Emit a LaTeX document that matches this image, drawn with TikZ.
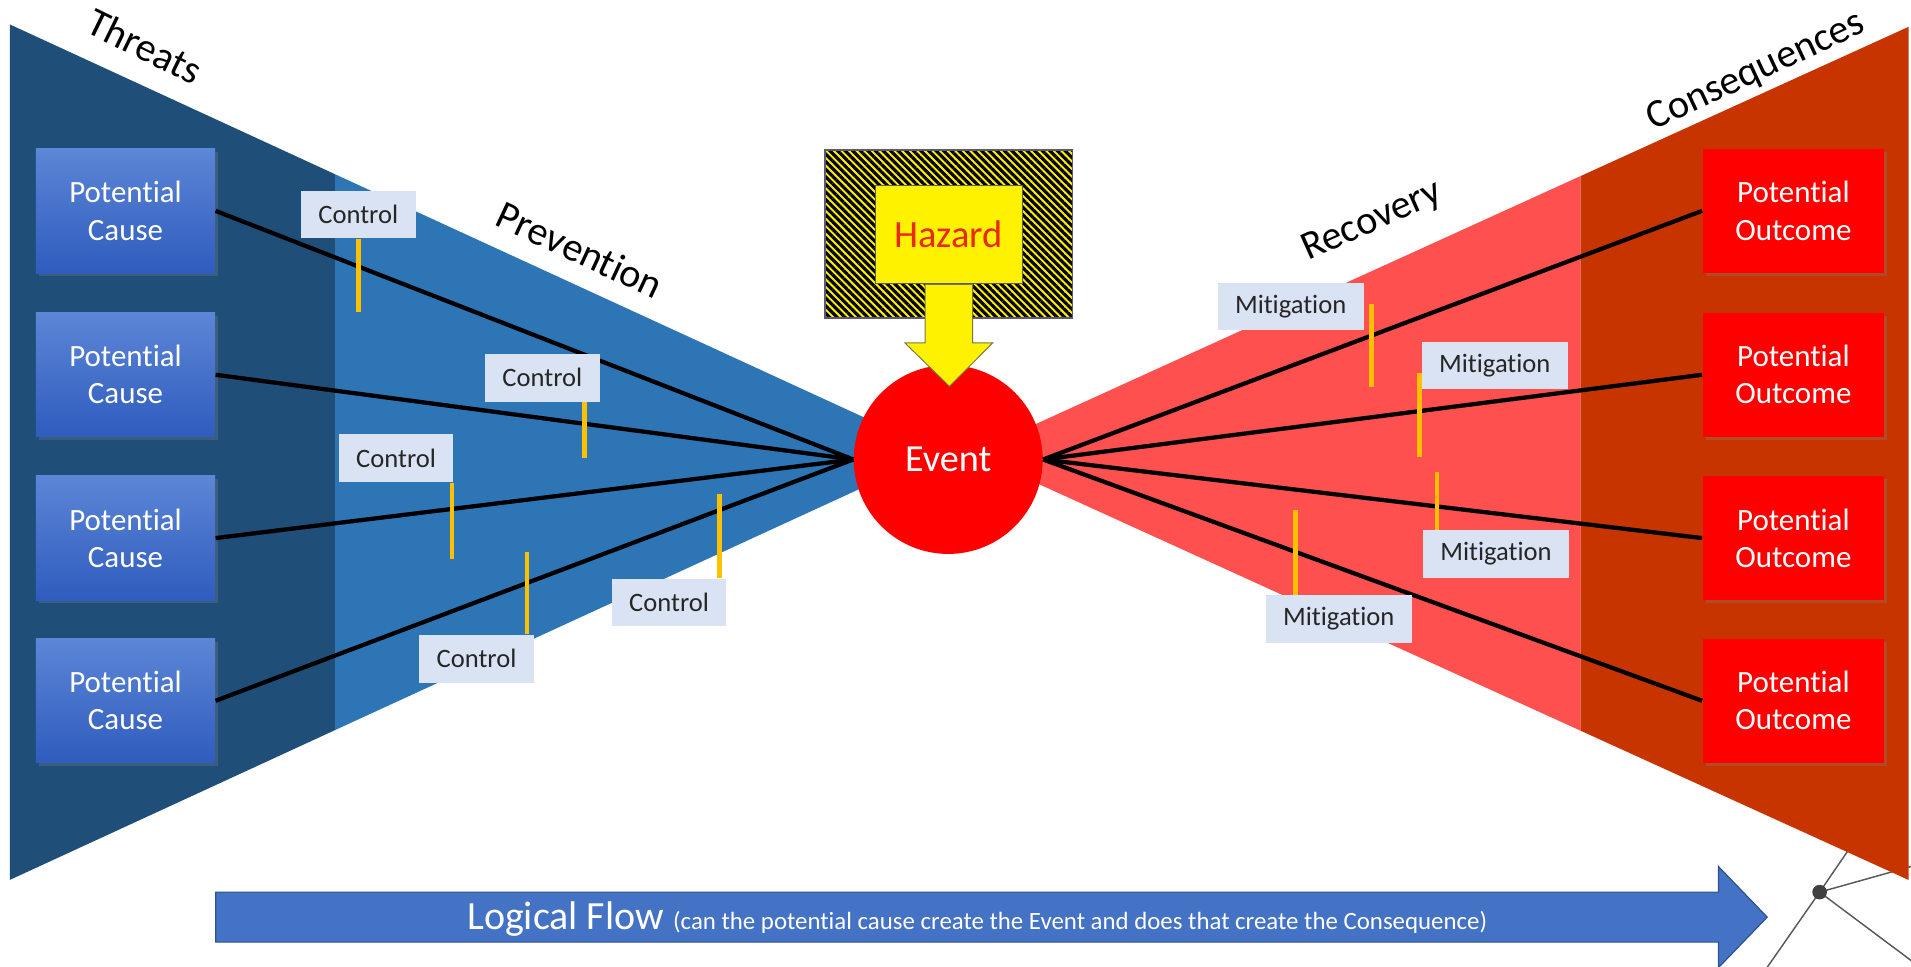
\documentclass[tikz,border=0pt]{standalone}
\usepackage{fontspec}
\setmainfont{Carlito}[Ligatures=NoCommon]
\usetikzlibrary{patterns.meta,shadows,calc}
\definecolor{darkblue}{RGB}{31,78,121}
\definecolor{midblue}{RGB}{46,117,182}
\definecolor{lightred}{RGB}{255,80,80}
\definecolor{darkred}{RGB}{200,52,0}
\definecolor{ctrlfill}{RGB}{218,227,243}
\definecolor{barcol}{RGB}{255,192,0}
\definecolor{flowblue}{RGB}{68,114,196}
\definecolor{flowedge}{RGB}{47,82,143}
\definecolor{causetop}{RGB}{92,134,214}
\definecolor{causebot}{RGB}{47,92,190}
\definecolor{boxedge}{RGB}{90,90,120}
\definecolor{hazardtext}{RGB}{235,40,10}
\begin{document}
\begin{tikzpicture}[x=0.5pt,y=-0.5pt,
  softshadow/.style={drop shadow={shadow xshift=1.2pt,shadow yshift=-1.2pt,opacity=0.3}},
  causebox/.style={rectangle,minimum width=73.5pt,minimum height=51pt,inner sep=0pt,
    top color=causetop,bottom color=causebot,text=white,align=center,
    font=\fontsize{12.7}{15.2}\selectfont,softshadow},
  outbox/.style={rectangle,minimum width=74.5pt,minimum height=51pt,inner sep=0pt,
    fill=red,text=white,align=center,font=\fontsize{12.7}{15.2}\selectfont,softshadow},
  ctrlbox/.style={rectangle,fill=ctrlfill,minimum width=47pt,minimum height=19.5pt,inner sep=0pt,
    text=black!85,font=\fontsize{10.9}{12}\selectfont},
  mitbox/.style={ctrlbox,minimum width=60pt},
  link/.style={line width=1.75pt,black},
  yellowbar/.style={line width=2pt,barcol},
  titletext/.style={font=\fontsize{16.5}{18}\selectfont,text=black,inner sep=0pt},
  netline/.style={line width=0.6pt,black!65}
]
\useasboundingbox (0,0) rectangle (1568,793);

% stray network graphic at bottom right
\coordinate (nd) at (1493,732);
\coordinate (n1) at (1545,656);
\coordinate (n2) at (1580,707.6);
\coordinate (n3) at (1440,808);
\coordinate (n4) at (1580,797);
\draw[netline] (nd) -- (n1);
\draw[netline] (nd) -- (n2);
\draw[netline] (nd) -- (n3);
\draw[netline] (nd) -- (n4);

% bow-tie regions
\fill[darkblue] (8,20) -- (275,143) -- (275,599) -- (8,722) -- cycle;
\fill[midblue] (275,143) -- (771,371) -- (275,599) -- cycle;
\fill[lightred] (797,372) -- (1297,144.4) -- (1297,599.6) -- cycle;
\fill[darkred] (1297,144.4) -- (1566,22) -- (1566,722) -- (1297,599.6) -- cycle;

\fill[black!75] (nd) circle (3pt);

% titles
\node[titletext,rotate=-26] (thr) at (119,38) {Threats};
\node[titletext,rotate=-25] (prev) at (476,205) {Prevention};
\node[titletext,rotate=24] (rec) at (1126,182) {Recovery};
\node[titletext,rotate=25] (cons) at (1441,59) {Consequences};

% causes and outcomes
\node[causebox] (c1) at (103,173) {Potential\\Cause};
\node[causebox] (c2) at (103,307.5) {Potential\\Cause};
\node[causebox] (c3) at (103,441.5) {Potential\\Cause};
\node[causebox] (c4) at (103,575) {Potential\\Cause};
\node[outbox] (o1) at (1471.5,173) {Potential\\Outcome};
\node[outbox] (o2) at (1471.5,307.5) {Potential\\Outcome};
\node[outbox] (o3) at (1471.5,441.5) {Potential\\Outcome};
\node[outbox] (o4) at (1471.5,575) {Potential\\Outcome};

% event
\node[circle,fill=red,minimum size=77.5pt,inner sep=0pt,text=white,
  font=\fontsize{15.7}{18}\selectfont] (ev) at (778,377) {Event};

% connectors
\draw[link] (c1.east) -- (ev.west);
\draw[link] (c2.east) -- (ev.west);
\draw[link] (c3.east) -- (ev.west);
\draw[link] (c4.east) -- (ev.west);
\draw[link] (ev.east) -- (o1.west);
\draw[link] (ev.east) -- (o2.west);
\draw[link] (ev.east) -- (o3.west);
\draw[link] (ev.east) -- (o4.west);

% controls
\node[ctrlbox] (k1) at (294,176) {Control};
\node[ctrlbox] (k2) at (445,310) {Control};
\node[ctrlbox] (k3) at (325,376) {Control};
\node[ctrlbox] (k4) at (391,540.5) {Control};
\node[ctrlbox] (k5) at (549,494.5) {Control};
\draw[yellowbar] (k1.south) -- ++(0,60);
\draw[yellowbar] ($(k2.south east)+(-13,0)$) -- ++(0,46);
\draw[yellowbar] ($(k3.south east)+(-1.5,0)$) -- ++(0,63);
\draw[yellowbar] ($(k4.north east)+(-6,0)$) -- ++(0,-68);
\draw[yellowbar] ($(k5.north east)+(-6,0)$) -- ++(0,-69);

% mitigations
\node[mitbox] (m1) at (1059,251.5) {Mitigation};
\node[mitbox] (m2) at (1226.5,300) {Mitigation};
\node[mitbox] (m3) at (1227.5,454.5) {Mitigation};
\node[mitbox] (m4) at (1098.5,508) {Mitigation};
\draw[yellowbar] ($(m1.east)+(6,-2)$) -- ++(0,68);
\draw[yellowbar] ($(m2.west)+(-1.5,6)$) -- ++(0,69);
\draw[yellowbar] ($(m3.north west)+(12,0)$) -- ++(0,-47);
\draw[yellowbar] ($(m4.north west)+(25,0)$) -- ++(0,-70);

% hazard
\node[rectangle,minimum width=101.5pt,minimum height=69pt,inner sep=0pt,
  draw=boxedge,line width=0.5pt,preaction={fill=yellow},
  pattern={Lines[angle=-45,distance=2.2pt,line width=1.3pt]},pattern color=black] (hzout) at (778.5,192) {};
\node[rectangle,minimum width=60.5pt,minimum height=40.5pt,inner sep=0pt,
  fill=yellow,draw=boxedge,line width=0.4pt,text=hazardtext,
  font=\fontsize{15.8}{18}\selectfont] (hz) at (778.5,192.5) {Hazard};
\coordinate (tip) at (779,317);
\filldraw[fill=yellow,draw=black!60!yellow,line width=0.4pt]
  ($(hz.south)+(-19.5,0)$) -- ($(hz.south)+(19.5,0)$) -- ($(hz.south)+(19.5,48)$)
  -- ($(hz.south)+(36,48)$) -- (tip) -- ($(hz.south)+(-36,48)$)
  -- ($(hz.south)+(-19.5,48)$) -- cycle;

% logical flow arrow
\filldraw[fill=flowblue,draw=flowedge,line width=0.5pt]
  (177,732) -- (1410,732) -- (1410,711) -- (1450,752.5) -- (1410,794)
  -- (1410,773) -- (177,773) -- cycle;
\node[anchor=base west,text=white,inner sep=0pt] (flowtxt) at (383,763)
  {\fontsize{16.4}{18}\selectfont Logical Flow {\fontsize{10.2}{12}\selectfont (can the potential cause create the Event and does that create the Consequence)}};
\end{tikzpicture}
\end{document}
